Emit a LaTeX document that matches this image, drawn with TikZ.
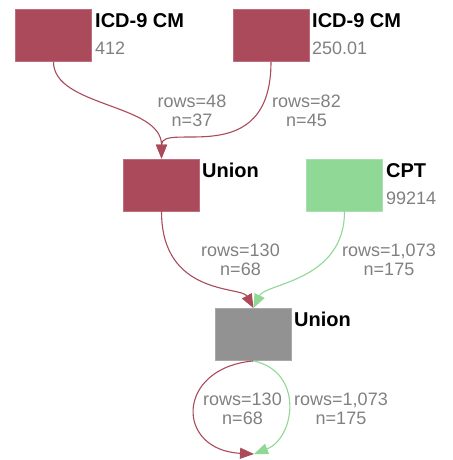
\documentclass[tikz,border=0pt]{standalone}
\usepackage{fontspec}
\setmainfont{Liberation Sans}
\usetikzlibrary{arrows.meta}
\definecolor{icdred}{RGB}{170,74,90}
\definecolor{cptgreen}{RGB}{144,216,150}
\definecolor{uniongray}{RGB}{146,146,146}
\definecolor{labelgray}{RGB}{128,128,128}
\tikzset{
	box/.style={rectangle,fill=#1,draw=#1!80!white,line width=0.8pt,minimum width=76pt,minimum height=52pt,inner sep=0pt},
	title/.style={anchor=base west,inner sep=0pt,font=\fontsize{20}{24}\selectfont\bfseries},
	code/.style={anchor=base west,inner sep=0pt,text=labelgray,font=\fontsize{18}{22}\selectfont},
	flow/.style={inner sep=0pt,align=center,text=labelgray,font=\fontsize{18}{19.5}\selectfont},
	link/.style={line width=1.1pt,-{Triangle[length=14pt,width=11pt]}}
}
\begin{document}
\begin{tikzpicture}[x=1pt,y=-1pt,line join=round]
			\useasboundingbox (0,0) rectangle (452,460);
			% boxes
			\node[box=icdred] (icdA) at (53.5,35.5) {};
			\node[box=icdred] (icdB) at (271,35.5) {};
			\node[box=icdred] (unionA) at (161.5,185) {};
			\node[box=cptgreen] (cpt) at (344.5,185) {};
			\node[box=uniongray] (unionB) at (253.5,334.5) {};
			\coordinate (sink) at (254,454);
			% names and codes
			\node[title] (icdAname) at (95,28) {ICD-9 CM};
			\node[code] (icdAcode) at (95,55) {412};
			\node[title] (icdBname) at (312,28) {ICD-9 CM};
			\node[code] (icdBcode) at (312,55) {250.01};
			\node[title] (unionAname) at (202,177) {Union};
			\node[title] (cptname) at (386,177) {CPT};
			\node[code] (cptcode) at (386,204) {99214};
			\node[title] (unionBname) at (294,326) {Union};
			% flows
			\draw[link,icdred] (icdA.south) .. controls +(0,45) and +(0,-55) .. (unionA.north);
			\draw[link,icdred] (icdB.south) .. controls +(0,110) and +(0,-38) .. (unionA.north);
			\draw[link,icdred] (unionA.south) .. controls +(0,85) and +(-12,-22) .. (unionB.north);
			\draw[link,cptgreen] (cpt.south) .. controls +(0,70) and +(12,-25) .. (unionB.north);
			\draw[link,icdred] (unionB.south) .. controls +(-78,7) and +(-79,-4) .. (sink);
			\draw[link,cptgreen] (unionB.south) .. controls +(51,11) and +(41,-16) .. (sink);
			% counts
			\node[flow] (rowsA) at (192,111) {rows=48\\n=37};
			\node[flow] (rowsB) at (306.5,111) {rows=82\\n=45};
			\node[flow] (rowsC) at (240.5,260) {rows=130\\n=68};
			\node[flow] (rowsD) at (389,260) {rows=1,073\\n=175};
			\node[flow] (rowsE) at (242.5,409) {rows=130\\n=68};
			\node[flow] (rowsF) at (341,409) {rows=1,073\\n=175};
\end{tikzpicture}
\end{document}
